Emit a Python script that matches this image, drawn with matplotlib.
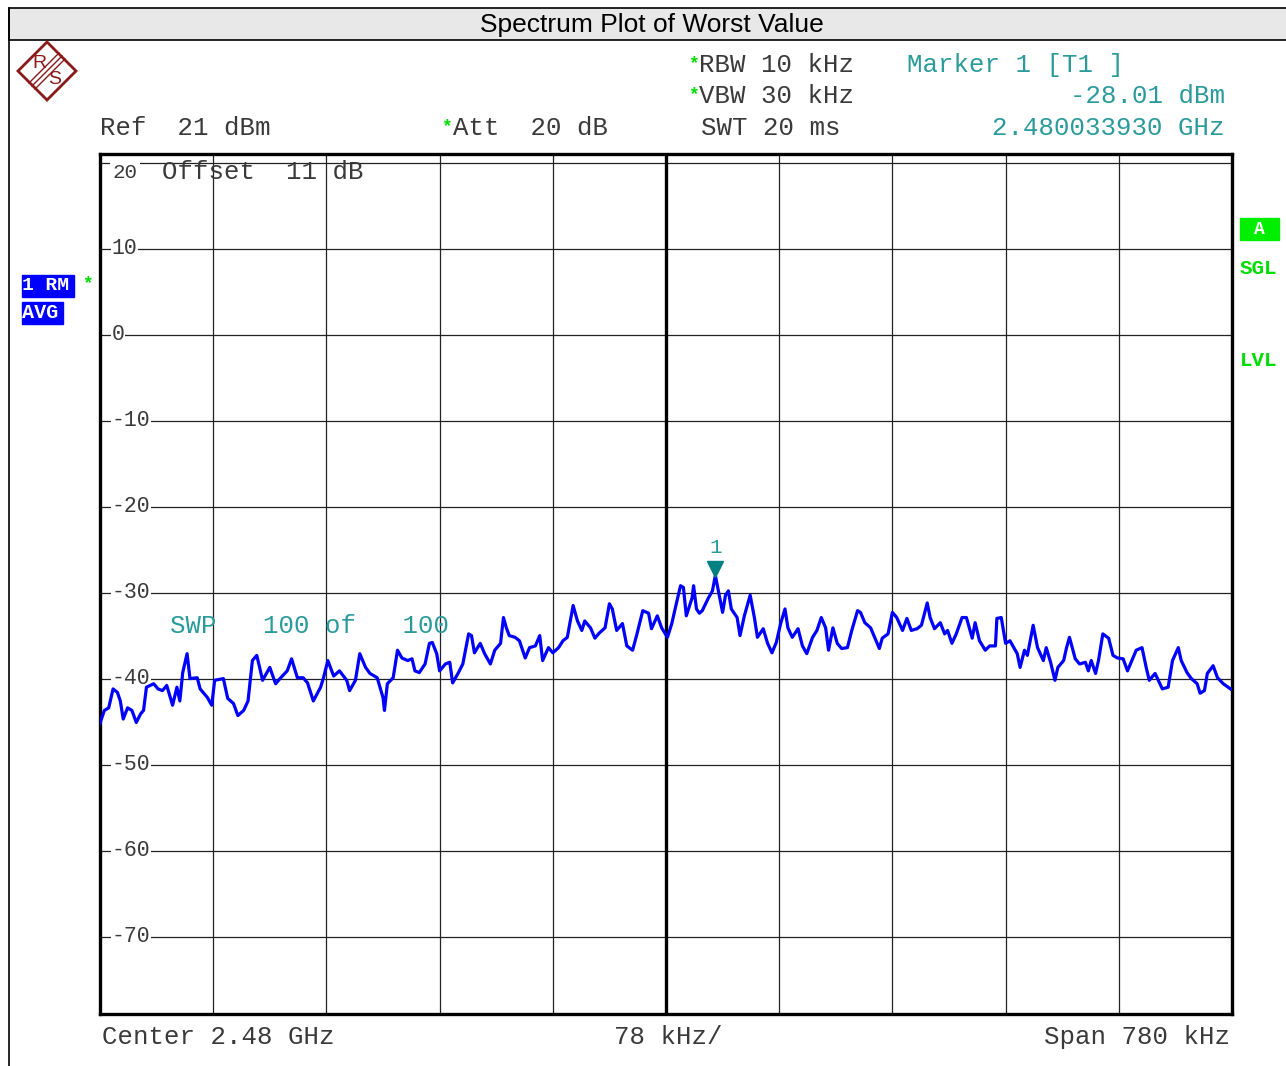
import numpy as np
import matplotlib.pyplot as plt
from matplotlib.patches import Rectangle, Polygon
from matplotlib.lines import Line2D

# trace: frequency offset from 2.48 GHz (kHz) and level (dBm)
freq_khz = [-390, -387, -384, -381, -378, -376, -374, -371, -368, -365, -362, -360, -358, -353, -350, -347, -344, -340,
            -337, -335, -333, -330, -328, -323, -321, -316, -313, -311, -305, -302, -298, -295, -291, -288, -285, -282,
            -280, -278, -273, -269, -266, -261, -258, -254, -250, -247, -243, -238, -236, -233, -229, -225, -220, -218,
            -214, -211, -207, -204, -199, -195, -194, -192,
            -188, -185, -182, -178, -175, -173, -170, -166, -163, -161, -158, -156, -152, -149, -147, -143, -140, -136,
            -134, -132, -128, -125, -121, -118, -114, -112, -110, -108, -104, -101, -97, -94, -90, -87, -85, -81, -78,
            -74, -71, -68, -64, -61, -58, -56, -52, -49, -46, -42, -39, -37, -34, -30, -27, -23, -20, -16, -12, -10,
            -6, -3, 1,
            4, 6, 10, 12, 14, 18, 19, 21, 23, 25, 29, 32, 34, 39, 41, 43, 45, 49, 51, 54, 58, 61, 63, 67, 70, 73, 76,
            79, 82, 84, 87, 91, 94, 97, 101, 104, 107, 110, 112, 115, 118, 121, 125, 128, 132, 134, 137, 141, 144, 147,
            149, 153, 156, 159, 163, 166, 169, 173, 176, 180, 182, 185, 189,
            192, 194, 197, 200, 204, 207, 211, 213, 216, 220, 223, 227, 228, 231, 234, 237, 242, 244, 247, 249, 253,
            256, 260, 262, 265, 268, 270, 274, 276, 278, 282, 285, 289, 291, 293, 296, 298, 301, 305, 308, 311, 315,
            318, 321, 324, 328, 331, 333, 337, 342, 346, 349, 353, 355, 359, 362, 366, 368, 371, 373, 377, 380, 384,
            389]
level_dbm = [-45.2, -43.7, -43.4, -41.2, -41.6, -42.6, -44.7, -43.4, -43.7, -45.1, -44.1, -43.7, -41.0, -40.6, -41.2,
             -41.4, -40.8, -43.1, -41.0, -42.6, -39.3, -37.1, -40.0, -39.9, -41.2, -42.2, -43.1, -40.2, -40.0, -42.3,
             -42.9, -44.3, -43.7, -42.6, -37.9, -37.3, -38.7, -40.2, -38.7, -40.6, -40.0, -39.1, -37.7, -39.9, -39.9,
             -40.5, -42.6, -41.0, -39.9, -37.9, -39.7, -39.1, -40.2, -41.4, -40.2, -37.1, -38.7, -39.4, -39.9, -42.2,
             -43.7, -40.6,
             -39.9, -36.7, -37.6, -37.9, -37.7, -39.1, -39.3, -38.3, -35.9, -35.8, -37.1, -39.1, -38.3, -38.1, -40.5,
             -39.3, -38.3, -34.8, -35.0, -37.0, -35.9, -37.1, -38.3, -36.7, -35.9, -32.9, -34.1, -35.0, -35.2, -35.6,
             -37.6, -36.4, -36.2, -35.0, -37.9, -36.4, -37.0, -36.4, -35.6, -35.2, -31.5, -33.3, -34.4, -33.3, -34.1,
             -35.3, -34.7, -34.1, -31.3, -31.9, -34.4, -33.6, -36.2, -36.7, -34.8, -32.1, -32.4, -34.2, -32.7, -34.1,
             -35.2,
             -33.6, -32.1, -29.2, -29.4, -32.7, -30.6, -29.2, -31.9, -32.4, -32.1, -30.7, -29.8, -28.0, -32.3, -30.3,
             -29.8, -31.9, -32.9, -35.0, -32.7, -30.3, -33.0, -35.2, -34.2, -35.9, -37.0, -35.8, -33.6, -31.9, -34.1,
             -35.2, -34.2, -36.2, -37.1, -35.2, -34.4, -32.9, -34.1, -36.7, -34.1, -35.9, -36.5, -36.4, -34.4, -32.1,
             -32.3, -33.5, -34.1, -35.3, -36.5, -35.3, -34.8, -32.3, -32.9, -34.4, -33.0, -34.4, -34.2, -33.8, -31.2,
             -32.9, -34.2, -33.5,
             -34.8, -34.4, -35.9, -34.8, -32.9, -32.9, -35.3, -33.5, -35.6, -36.7, -36.2, -36.2, -33.0, -32.9, -35.9,
             -35.6, -37.1, -38.7, -36.7, -37.3, -33.8, -36.4, -37.9, -36.4, -38.1, -40.2, -38.7, -37.9, -36.4, -35.2,
             -37.7, -38.3, -38.1, -39.1, -37.9, -39.4, -37.9, -34.8, -35.3, -37.3, -37.6, -37.7, -39.1, -37.9, -36.7,
             -36.4, -38.8, -40.2, -39.4, -41.2, -41.0, -37.9, -36.4, -37.9, -39.3, -40.0, -40.6, -41.7, -41.4, -39.4,
             -38.5, -39.9, -40.6, -41.2]

marker_khz = 34
marker_dbm = -28.01
y_labels = [20, 10, 0, -10, -20, -30, -40, -50, -60, -70]

W, H = 1286, 1066
mono = 'Liberation Mono'
teal = '#2a9a9a'
green = '#00dd00'
grey = '#3a3a3a'


def fx(px):
    return px / W


def fy(py):
    return 1 - py / H


fig = plt.figure(figsize=(W / 100, H / 100), dpi=100)

# frame and title bar
fig.patches.append(Rectangle((fx(9), fy(40)), 1, (40 - 8) / H, transform=fig.transFigure,
                             facecolor='#e8e8e8', edgecolor='black', lw=1.2))
fig.lines.append(Line2D([fx(9), fx(9)], [0, fy(8)], transform=fig.transFigure, color='black', lw=1.2))
fig.text(fx(652), fy(25), 'Spectrum Plot of Worst Value', family='Liberation Sans', fontsize=19,
         ha='center', va='center')

# R&S logo
dark_red = '#8b1a1a'
fig.patches.append(Polygon([(fx(47), fy(42)), (fx(76), fy(71)), (fx(47), fy(100)), (fx(18), fy(71))],
                           closed=True, fill=False, edgecolor=dark_red, lw=2, transform=fig.transFigure))
for d in (-3, 0, 3):
    fig.lines.append(Line2D([fx(32 + d), fx(62 + d)], [fy(86 + d), fy(56 + d)], transform=fig.transFigure,
                            color=dark_red, lw=1))
fig.text(fx(39), fy(63), 'R', color=dark_red, fontsize=14, ha='center', va='center', family='Liberation Sans')
fig.text(fx(55), fy(80), 'S', color=dark_red, fontsize=14, ha='center', va='center', family='Liberation Sans')

# header texts
fs = 18.5
fig.text(fx(100), fy(128), 'Ref  21 dBm', family=mono, fontsize=fs, color=grey, va='center')
fig.text(fx(441), fy(127), '*', family=mono, fontsize=13, color=green, va='center', weight='bold')
fig.text(fx(453), fy(128), 'Att  20 dB', family=mono, fontsize=fs, color=grey, va='center')
fig.text(fx(688), fy(64), '*', family=mono, fontsize=13, color=green, va='center', weight='bold')
fig.text(fx(699), fy(65), 'RBW 10 kHz', family=mono, fontsize=fs, color=grey, va='center')
fig.text(fx(688), fy(95), '*', family=mono, fontsize=13, color=green, va='center', weight='bold')
fig.text(fx(699), fy(96), 'VBW 30 kHz', family=mono, fontsize=fs, color=grey, va='center')
fig.text(fx(701), fy(128), 'SWT 20 ms', family=mono, fontsize=fs, color=grey, va='center')
fig.text(fx(907), fy(65), 'Marker 1 [T1 ]', family=mono, fontsize=fs, color=teal, va='center')
fig.text(fx(1225), fy(96), '%.2f dBm' % marker_dbm, family=mono, fontsize=fs, color=teal, va='center', ha='right')
fig.text(fx(1225), fy(128), '2.480033930 GHz', family=mono, fontsize=fs, color=teal, va='center', ha='right')

# left trace info boxes
fig.patches.append(Rectangle((fx(22), fy(297)), 52 / W, 22 / H, transform=fig.transFigure, color='#0000ff'))
fig.patches.append(Rectangle((fx(22), fy(324)), 41 / W, 22 / H, transform=fig.transFigure, color='#0000ff'))
fig.text(fx(22), fy(286), '1 RM', family=mono, fontsize=14, weight='bold', color='white', va='center')
fig.text(fx(22), fy(313), 'AVG', family=mono, fontsize=14.5, weight='bold', color='white', va='center')
fig.text(fx(87), fy(284), '*', family=mono, fontsize=13, weight='bold', color=green, va='center', ha='center')

# right status boxes
fig.patches.append(Rectangle((fx(1240), fy(240)), 39 / W, 22 / H, transform=fig.transFigure, color='#00ee00'))
fig.text(fx(1259), fy(229), 'A', family=mono, fontsize=13, weight='bold', color='white', va='center', ha='center')
fig.text(fx(1240), fy(268), 'SGL', family=mono, fontsize=15, weight='bold', color='#00dd00', va='center')
fig.text(fx(1240), fy(360), 'LVL', family=mono, fontsize=15, weight='bold', color='#00dd00', va='center')

# bottom texts
fig.text(fx(102), fy(1037), 'Center 2.48 GHz', family=mono, fontsize=fs, color=grey, va='center')
fig.text(fx(614), fy(1037), '78 kHz/', family=mono, fontsize=fs, color=grey, va='center')
fig.text(fx(1230), fy(1037), 'Span 780 kHz', family=mono, fontsize=fs, color=grey, va='center', ha='right')

# plot area
ax = fig.add_axes([fx(100), fy(1014), (1232 - 100) / W, (1014 - 154) / H])
ax.set_xlim(-390, 390)
ax.set_ylim(-79, 21)
ax.set_xticks(np.arange(-390, 391, 78))
ax.set_yticks(y_labels)
ax.grid(True, color='#222222', lw=0.9)
ax.tick_params(length=0, labelleft=False, labelbottom=False)
for s in ax.spines.values():
    s.set_linewidth(2.4)
ax.axvline(0, color='black', lw=2.4)

ytr = ax.get_yaxis_transform()
for v in y_labels:
    if v == 20:
        ax.text(0.011, v - 1.15, str(v), transform=ytr, family=mono, fontsize=15, color=grey, va='center',
                bbox=dict(facecolor='white', edgecolor='none', pad=1.5), zorder=3)
    else:
        ax.text(0.010, v, str(v), transform=ytr, family=mono, fontsize=15.5, color=grey,
                va='center', bbox=dict(facecolor='white', edgecolor='none', pad=0.5), zorder=3)
ax.text(0.055, 18.85, 'Offset  11 dB', transform=ytr, family=mono, fontsize=fs, color=grey, va='center')
ax.text(0.062, -33.9, 'SWP   100 of   100', transform=ytr, family=mono, fontsize=fs, color=teal, va='center')

ax.plot(freq_khz, level_dbm, color='#0000ff', lw=2.3, zorder=4)
ax.plot(marker_khz, marker_dbm + 0.8, marker='v', color='#008080', ms=11, ls='none', zorder=5)
ax.text(marker_khz, marker_dbm + 3.3, '1', family=mono, fontsize=15, color=teal, ha='center', va='center')

fig.savefig('out.png', dpi=100)
